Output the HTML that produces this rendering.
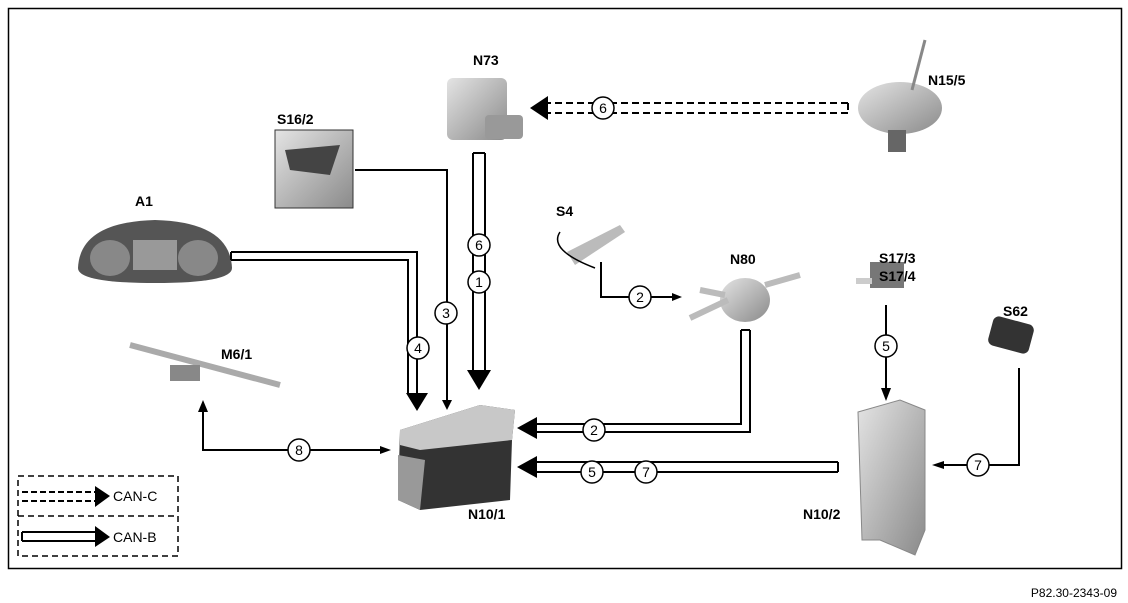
<!DOCTYPE html>
<html><head><style>body{margin:0;background:#fff}svg{display:block}text{font-family:"Liberation Sans",Arial,sans-serif}</style></head><body>
<svg width="1128" height="603" viewBox="0 0 1128 603" xmlns="http://www.w3.org/2000/svg">
<defs>
<linearGradient id="g" x1="0" y1="0" x2="1" y2="1"><stop offset="0" stop-color="#e4e4e4"/><stop offset="1" stop-color="#8a8a8a"/></linearGradient>
</defs>
<rect x="8.5" y="8.5" width="1113" height="560" fill="none" stroke="#000" stroke-width="1.5"/>
<text x="1117" y="597" font-size="12" text-anchor="end">P82.30-2343-09</text>

<!-- components -->
<!-- N73 -->
<rect x="447" y="78" width="60" height="62" rx="6" fill="url(#g)"/>
<rect x="485" y="115" width="38" height="24" rx="4" fill="#999"/>
<!-- N15/5 -->
<ellipse cx="900" cy="108" rx="42" ry="26" fill="url(#g)"/>
<rect x="888" y="130" width="18" height="22" fill="#666"/>
<line x1="912" y1="90" x2="925" y2="40" stroke="#888" stroke-width="3"/>
<!-- S16/2 -->
<rect x="275" y="130" width="78" height="78" fill="url(#g)" stroke="#333"/>
<path d="M285 150 L340 145 L330 175 L290 170Z" fill="#444"/>
<!-- A1 -->
<path d="M78 268 Q80 222 155 220 Q230 222 232 268 Q232 283 155 283 Q78 283 78 268Z" fill="#555"/>
<ellipse cx="110" cy="258" rx="20" ry="18" fill="#888"/><ellipse cx="198" cy="258" rx="20" ry="18" fill="#888"/><rect x="133" y="240" width="44" height="30" fill="#999"/>
<!-- S4 -->
<path d="M567 252 L620 225 L625 232 L575 265 Z" fill="#bbb"/>
<path d="M560 232 Q548 250 595 268" fill="none" stroke="#000" stroke-width="1.5"/>
<!-- N80 -->
<ellipse cx="745" cy="300" rx="25" ry="22" fill="url(#g)"/>
<path d="M690 318 L728 300 M700 290 L725 295 M765 285 L800 275" stroke="#bbb" stroke-width="6"/>
<!-- S17 -->
<rect x="870" y="262" width="34" height="26" fill="#777"/><rect x="856" y="278" width="16" height="6" fill="#ccc"/>
<!-- S62 -->
<rect x="990" y="320" width="42" height="30" rx="6" fill="#333" transform="rotate(15 1011 335)"/>
<!-- M6/1 -->
<path d="M130 345 L280 385" stroke="#aaa" stroke-width="6"/>
<rect x="170" y="365" width="30" height="16" fill="#888"/>
<!-- N10/1 -->
<path d="M400 430 L480 405 L515 410 L512 440 L510 500 L420 510 L398 500Z" fill="#333"/>
<path d="M400 430 L480 405 L515 410 L512 440 L420 450 L400 445Z" fill="#c8c8c8"/>
<path d="M398 455 L425 460 L420 510 L398 500Z" fill="#999"/>
<!-- N10/2 -->
<path d="M858 412 L900 400 L925 410 L925 530 L915 555 L880 540 L862 540Z" fill="url(#g)" stroke="#888"/>

<!-- labels -->
<g font-size="14" font-weight="bold">
<text x="473" y="65">N73</text>
<text x="928" y="85">N15/5</text>
<text x="277" y="124">S16/2</text>
<text x="135" y="206">A1</text>
<text x="556" y="216">S4</text>
<text x="730" y="264">N80</text>
<text x="879" y="263">S17/3</text>
<text x="879" y="281">S17/4</text>
<text x="1003" y="316">S62</text>
<text x="221" y="359">M6/1</text>
<text x="468" y="519">N10/1</text>
<text x="803" y="519">N10/2</text>
</g>

<g fill="none" stroke="#000" stroke-width="2">
<!-- A1 double -->
<path d="M231 252 H417 V393 M231 260 H408 V393 M231 252 V260"/>
<!-- S16/2 single -->
<path d="M355 170 H447 V402"/>
<!-- N73 double -->
<path d="M473 153 V372 M485 153 V372 M473 153 H485"/>
<!-- N15/5 dashed -->
<path d="M848 103 H548 M848 113 H548 M848 103 V113" stroke-dasharray="7,4"/>
<!-- S4 -->
<path d="M601 262 V297 H672"/>
<!-- N80 double -->
<path d="M741 330 V424 H537 M750 330 V432 H537 M741 330 H750"/>
<!-- N10/2 double -->
<path d="M838 462 H537 M838 472 H537 M838 462 V472"/>
<!-- S17 -->
<path d="M886 305 V390"/>
<!-- S62 -->
<path d="M1019 368 V465 H944"/>
<!-- M6/1 -->
<path d="M203 410 V450 H380"/>
<!-- legend -->
<rect x="18" y="476" width="160" height="80" stroke-width="1.5" stroke-dasharray="6,4"/>
<path d="M18 516 H178" stroke-width="1.5" stroke-dasharray="6,4"/>
<path d="M22 492 H95 M22 501 H95" stroke-dasharray="6,3"/>
<path d="M22 532 H95 M22 541 H95 M22 532 V541"/>
</g>
<g fill="#000">
<polygon points="406,393 428,393 417,411"/>
<polygon points="442,400 452,400 447,410"/>
<polygon points="467,370 491,370 479,390"/>
<polygon points="548,96 548,120 530,108"/>
<polygon points="672,293 672,301 682,297"/>
<polygon points="537,417 537,439 517,428"/>
<polygon points="537,456 537,478 517,467"/>
<polygon points="881,388 891,388 886,401"/>
<polygon points="944,461 944,469 932,465"/>
<polygon points="198,412 208,412 203,400"/>
<polygon points="380,446 380,454 391,450"/>
<polygon points="95,486 95,507 110,496"/>
<polygon points="95,526 95,547 110,537"/>
</g>
<g font-size="14" text-anchor="middle" fill="#fff" stroke="#000" stroke-width="1.5">
<circle cx="418" cy="348" r="11"/><circle cx="446" cy="313" r="11"/>
<circle cx="479" cy="245" r="11"/><circle cx="479" cy="282" r="11"/>
<circle cx="603" cy="108" r="11"/><circle cx="640" cy="297" r="11"/>
<circle cx="594" cy="430" r="11"/><circle cx="592" cy="472" r="11"/>
<circle cx="646" cy="472" r="11"/><circle cx="886" cy="346" r="11"/>
<circle cx="978" cy="465" r="11"/><circle cx="299" cy="450" r="11"/>
</g>
<g font-size="14" text-anchor="middle">
<text x="418" y="353">4</text><text x="446" y="318">3</text>
<text x="479" y="250">6</text><text x="479" y="287">1</text>
<text x="603" y="113">6</text><text x="640" y="302">2</text>
<text x="594" y="435">2</text><text x="592" y="477">5</text>
<text x="646" y="477">7</text><text x="886" y="351">5</text>
<text x="978" y="470">7</text><text x="299" y="455">8</text>
</g>
<g font-size="14">
<text x="113" y="501">CAN-C</text>
<text x="113" y="542">CAN-B</text>
</g>
</svg>
</body></html>
